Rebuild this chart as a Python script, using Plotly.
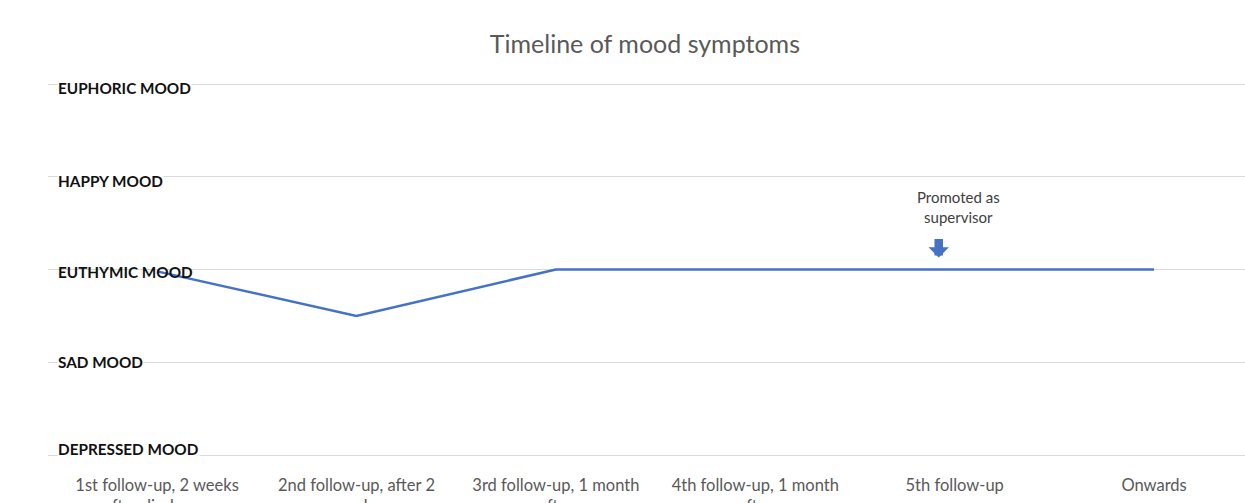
import plotly.graph_objects as go

# Data
categories = ["1st follow-up, 2 weeks<br>after discharge", "2nd follow-up, after 2<br>weeks",
              "3rd follow-up, 1 month<br>after", "4th follow-up, 1 month<br>after",
              "5th follow-up", "Onwards"]
mood_values = [2.98, 2.5, 3, 3, 3, 3]
mood_levels = [5, 4, 3, 2, 1]
mood_labels = ["EUPHORIC MOOD", "HAPPY MOOD", "EUTHYMIC MOOD", "SAD MOOD", "DEPRESSED MOOD"]
event_text = "Promoted as<br>supervisor"
event_x = 3.92
event_y = 3.0

xs = list(range(len(categories)))

fig = go.Figure()
fig.add_trace(go.Scatter(x=xs, y=mood_values, mode="lines",
                         line=dict(color="#4472C4", width=2.5), showlegend=False,
                         hoverinfo="skip"))

FONT = "Lato"
label_shift = [-4, -4, -2, 0, 6]
label_bg = ["white", "white", "rgba(0,0,0,0)", "white", "white"]
for lvl, lab, sh, bg in zip(mood_levels, mood_labels, label_shift, label_bg):
    fig.add_annotation(x=-0.5, y=lvl, text="<b>" + lab + "</b>", showarrow=False,
                       xanchor="left", yanchor="middle", yshift=sh,
                       bgcolor=bg, borderpad=0,
                       font=dict(family=FONT, size=15.3, color="#111111"))

# event arrow
fig.add_annotation(x=event_x, y=event_y, ax=0, ay=-20, axref="pixel", ayref="pixel",
                   text="", showarrow=True, arrowhead=1, arrowsize=0.4, arrowwidth=8.5,
                   arrowcolor="#4472C4", yshift=12)
fig.add_annotation(x=event_x + 0.1, y=event_y, text=event_text, showarrow=False,
                   yanchor="bottom", yshift=42, align="center",
                   font=dict(family=FONT, size=15, color="#404040"))

fig.update_layout(
    width=1245, height=503,
    margin=dict(l=48, r=0, t=56, b=48),
    plot_bgcolor="white", paper_bgcolor="white",
    title=dict(text="Timeline of mood symptoms", x=0.518, xanchor="center",
               y=1 - 44 / 503, yanchor="middle", yref="container",
               font=dict(family=FONT, size=25, color="#595959")),
    xaxis=dict(tickmode="array", tickvals=xs, ticktext=categories,
               range=[-0.547, 5.456], showgrid=False, zeroline=False,
               showline=True, linecolor="#d9d9d9", linewidth=1,
               ticks="", ticklabelstandoff=15, automargin=False,
               tickfont=dict(family=FONT, size=16.5, color="#595959")),
    yaxis=dict(tickmode="array", tickvals=mood_levels, range=[1, 5.302],
               showticklabels=False, showgrid=True, gridcolor="#d9d9d9",
               gridwidth=1, zeroline=False, ticks="", automargin=False),
)

fig.write_html("out.html", config={"displayModeBar": False},
               post_script="document.body.style.margin='0';document.body.style.overflow='hidden';")
